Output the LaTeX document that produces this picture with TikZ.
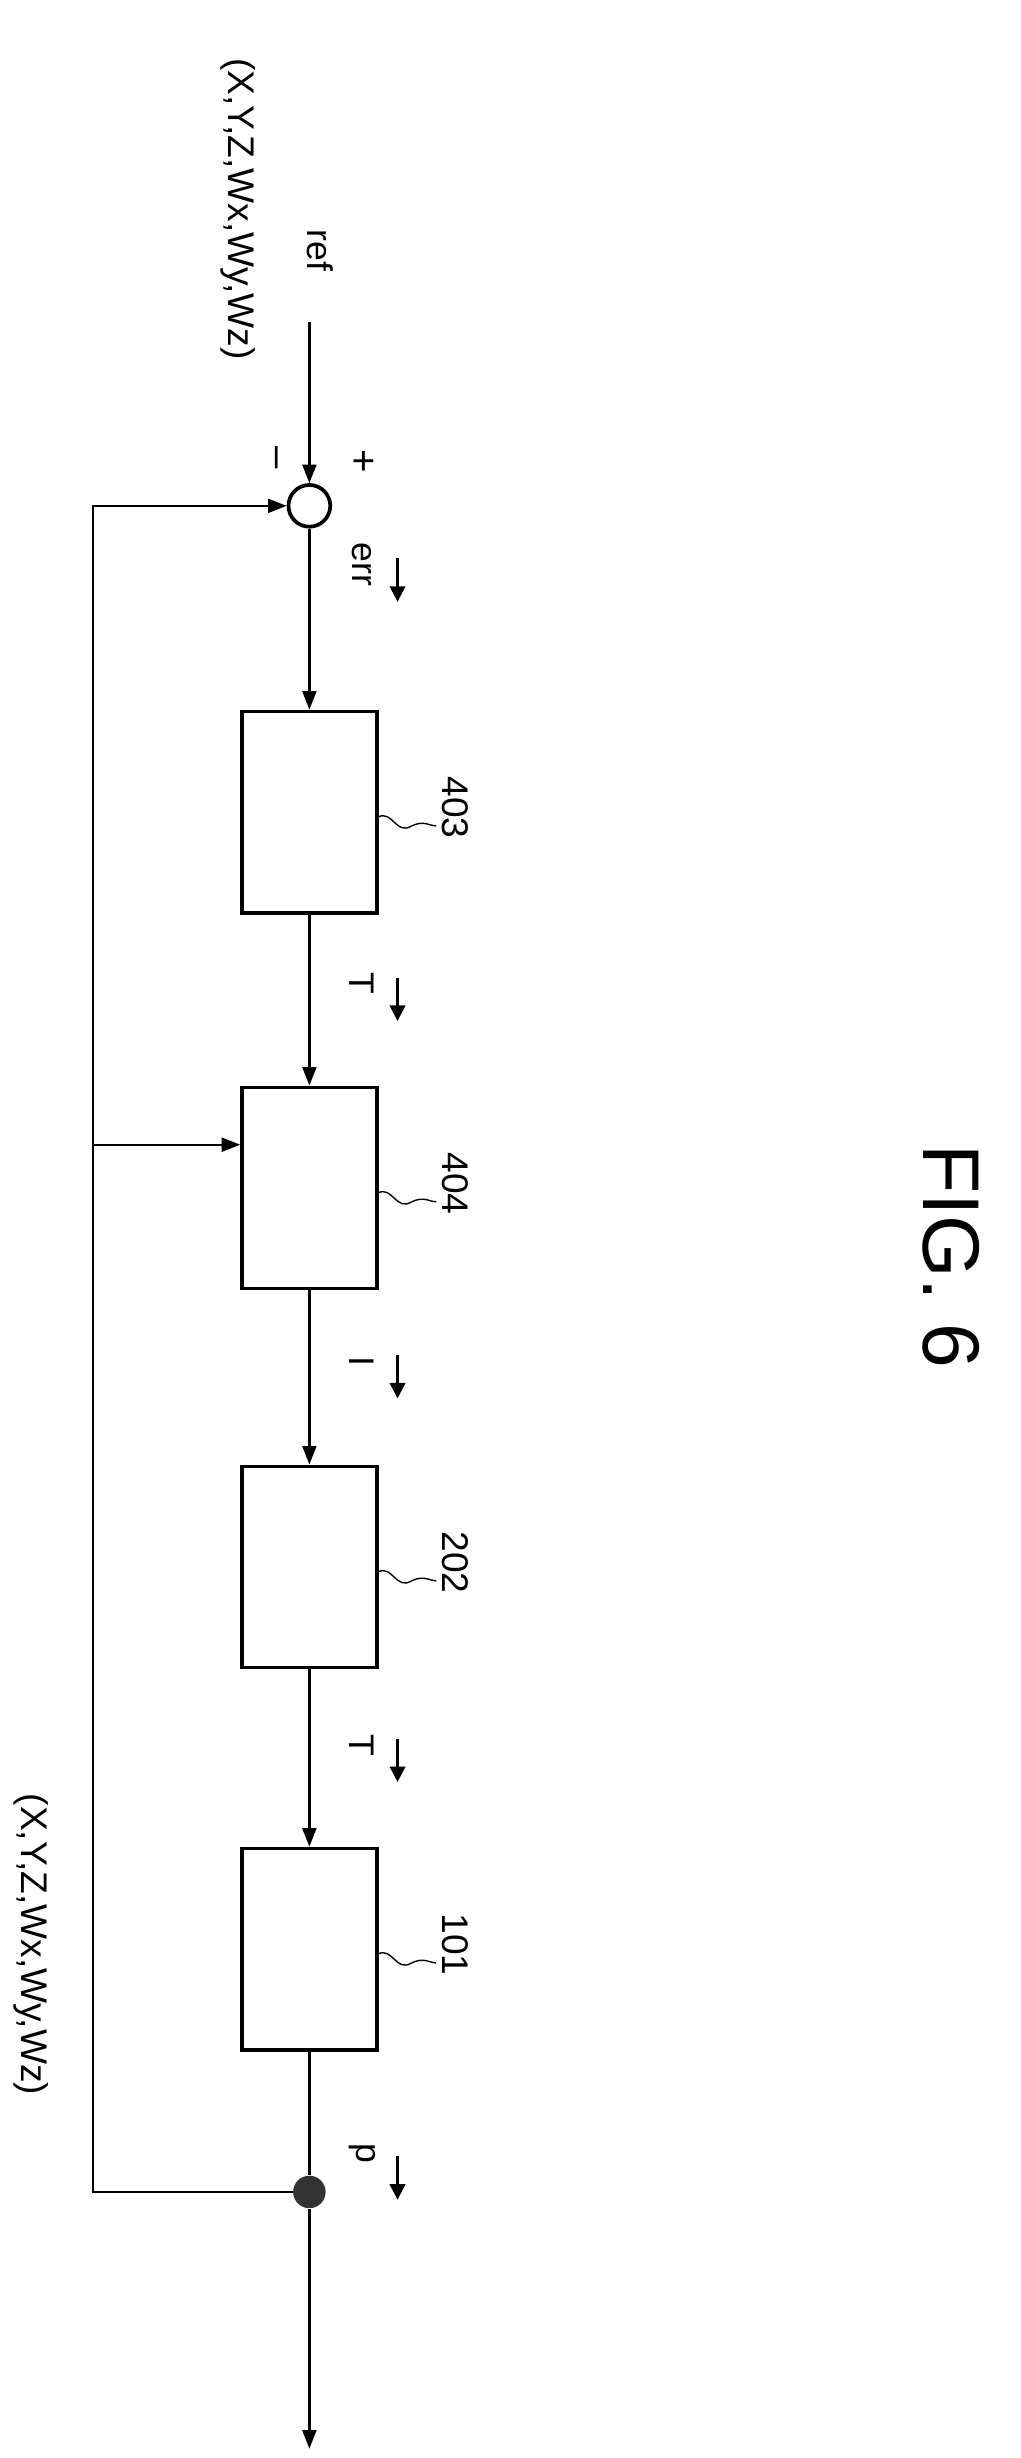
\documentclass[tikz,border=0pt]{standalone}
\usepackage{fontspec}
\setmainfont{Liberation Sans}
\usetikzlibrary{arrows.meta}
\begin{document}
\begin{tikzpicture}[x=1pt,y=-1pt,
  box/.style={draw,line width=2.4pt,minimum width=87pt,minimum height=130pt,inner sep=0pt},
  ln/.style={line width=1.5pt},
  arr/.style={ln,-{Triangle[length=12pt,width=9pt]}},
  lbl/.style={rotate=-90,font=\fontsize{23}{25}\selectfont,inner sep=0pt},
  num/.style={rotate=-90,font=\fontsize{24}{26}\selectfont,inner sep=0pt},
  sarr/.style={line width=1.6pt,-{Triangle[length=10pt,width=10pt]}}]
\useasboundingbox (0,0) rectangle (660,1589);
\node[draw,circle,line width=2.4pt,minimum size=27pt,inner sep=0pt] (sum) at (200,327) {};
\node[box] (b403) at (200,525) {};
\node[box] (b404) at (200,768) {};
\node[box] (b202) at (200,1013) {};
\node[box] (b101) at (200,1260) {};
\node[circle,fill=black!80,minimum size=21pt,inner sep=0pt] (dot) at (200,1417) {};
\coordinate (in) at (200,208);
\coordinate (out) at (200,1583);
\coordinate (c1) at (60,327);
\coordinate (c2) at (60,1417);
\coordinate (br) at (60,740);
\draw[arr] (in) -- (sum.north);
\draw[arr] (sum.south) -- (b403.north);
\draw[arr] (b403.south) -- (b404.north);
\draw[arr] (b404.south) -- (b202.north);
\draw[arr] (b202.south) -- (b101.north);
\draw[ln] (b101.south) -- (dot);
\draw[arr] (dot) -- (out);
\draw[arr] (dot) -- (c2) -- (c1) -- (sum.west);
\draw[arr] (br) -- (b404.west |- br);
\node[lbl] (ref) at (207,162) {ref};
\node[lbl,font=\fontsize{24}{26}\selectfont] (xin) at (154,135) {(X,Y,Z,Wx,Wy,Wz)};
\node[lbl,font=\fontsize{24}{26}\selectfont] (xout) at (20,1257) {(X,Y,Z,Wx,Wy,Wz)};
\node[lbl,font=\fontsize{26}{28}\selectfont] (plus) at (234,298) {+};
\node[lbl,font=\fontsize{26}{28}\selectfont] (minus) at (176,296) {\textendash};
\node[lbl] (err) at (234,365) {err};
\node[lbl] (t1) at (234,636) {T};
\node[lbl] (i1) at (234,880) {I};
\node[lbl] (t2) at (234,1128) {T};
\node[lbl] (p) at (234,1392) {p};
\foreach \y [count=\k] in {375,646,890,1138,1408}{
  \coordinate (sa\k) at (257,\y-14);
  \coordinate (sb\k) at (257,\y+14);
  \draw[sarr] (sa\k) -- (sb\k);
}
\foreach \b/\t/\y in {b403/403/522,b404/404/765,b202/202/1010,b101/101/1257}{
  \node[num] (n\t) at (294,\y) {\t};
  \draw[line width=0.9pt] (\b.east |- 0,\y+6) .. controls (254,\y+2) and (256,\y+18) .. (266,\y+12) .. controls (274,\y+8) and (278,\y+12) .. (282,\y+12);
}
\node[rotate=-90,font=\fontsize{52}{56}\selectfont,inner sep=0pt] (fig) at (615,812) {FIG. 6};
\end{tikzpicture}
\end{document}
